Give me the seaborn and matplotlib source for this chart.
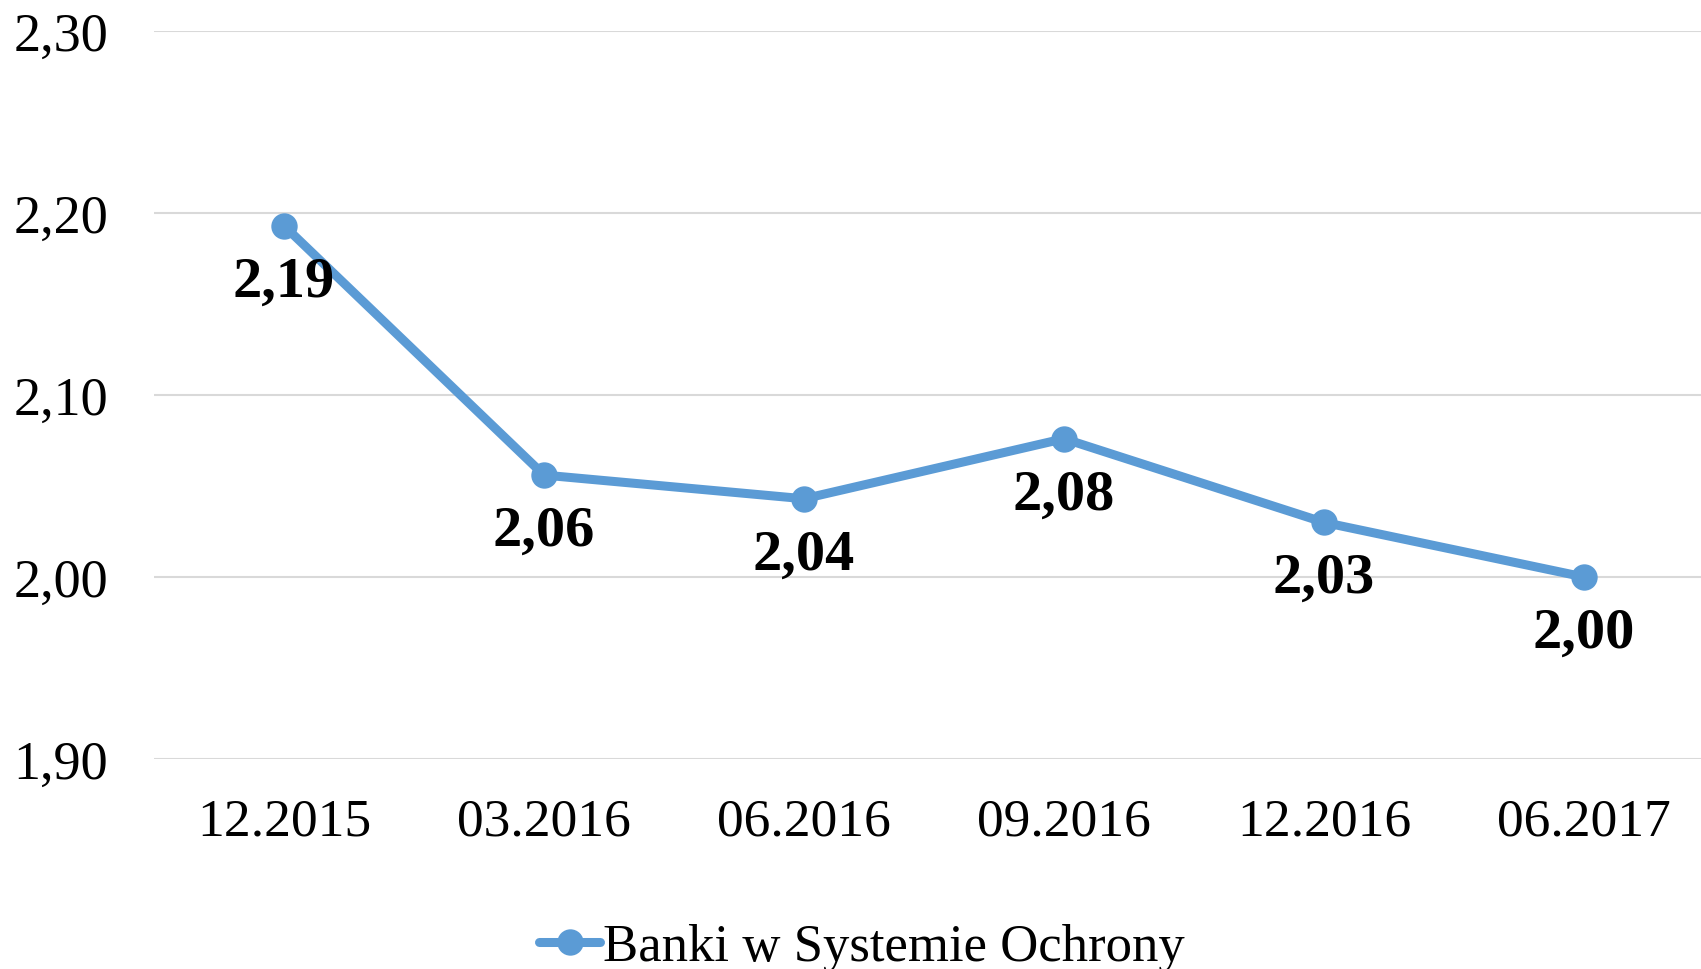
import numpy as np
import pandas as pd
import matplotlib
matplotlib.use("Agg")
import matplotlib.pyplot as plt
from matplotlib.ticker import FuncFormatter
import seaborn as sns

# data
periods = ["12.2015", "03.2016", "06.2016", "09.2016", "12.2016", "06.2017"]
values = [2.193, 2.056, 2.043, 2.076, 2.030, 2.000]
series_name = "Banki w Systemie Ochrony"
y_ticks = [1.90, 2.00, 2.10, 2.20, 2.30]

df = pd.DataFrame({"okres": periods, "wartosc": values})

sns.set_theme(style="white")
plt.rcParams["font.family"] = ["Liberation Serif", "DejaVu Serif"]
plt.rcParams["text.color"] = "black"
plt.rcParams["xtick.color"] = "black"
plt.rcParams["ytick.color"] = "black"

fig = plt.figure(figsize=(17.01, 9.70), dpi=100)
ax = fig.add_axes([154 / 1701, 1 - 760 / 970, 1 - 154 / 1701, (760 - 32) / 970])

line_color = "#5b9bd5"
sns.lineplot(data=df, x="okres", y="wartosc", sort=False, ax=ax,
             color=line_color, linewidth=6.5, marker="o", markersize=19,
             markeredgewidth=0, label=series_name, legend=False)

# data labels below each point
for i, v in enumerate(values):
    ax.annotate(f"{v:.2f}".replace(".", ","), (i, v), xytext=(0, -40),
                textcoords="offset points", ha="center", va="center",
                fontsize=42, fontweight="bold", color="black")

ax.set_ylim(1.90, 2.30)
ax.set_xlim(-0.5, 5.45)
ax.set_yticks(y_ticks)
ax.yaxis.set_major_formatter(FuncFormatter(lambda v, p: f"{v:.2f}".replace(".", ",")))
ax.grid(axis="y", color="#d9d9d9", linewidth=1.5)
ax.grid(axis="x", visible=False)
for s in ax.spines.values():
    s.set_visible(False)
ax.tick_params(axis="y", length=0, pad=33, labelsize=39, labelcolor="black")
ax.tick_params(axis="x", length=0, pad=28, labelsize=38.5, labelcolor="black")
ax.set_xlabel("")
ax.set_ylabel("")

handles, labels = ax.get_legend_handles_labels()
fig.legend(handles, labels, loc="center", bbox_to_anchor=(862 / 1701, 1 - 948 / 970),
           frameon=False, fontsize=38, handlelength=1.15, handletextpad=0.05,
           markerscale=1.0, labelcolor="black")

fig.savefig("out.png", dpi=100)
